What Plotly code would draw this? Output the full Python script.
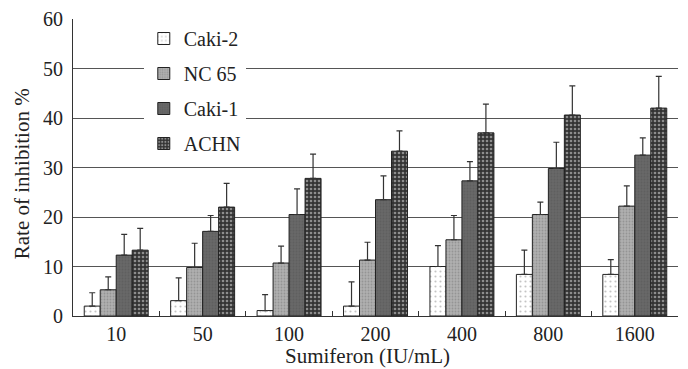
import plotly.graph_objects as go

doses = ["10", "50", "100", "200", "400", "800", "1600"]
caki2 = [2.0, 3.1, 1.1, 2.0, 10.0, 8.4, 8.4]
caki2_top = [4.7, 7.7, 4.3, 6.9, 14.2, 13.3, 11.4]
nc65 = [5.3, 9.8, 10.7, 11.3, 15.4, 20.5, 22.2]
nc65_top = [7.9, 14.7, 14.1, 14.9, 20.3, 23.0, 26.3]
caki1 = [12.3, 17.1, 20.5, 23.5, 27.3, 29.8, 32.5]
caki1_top = [16.5, 20.3, 25.7, 28.3, 31.2, 35.1, 36.0]
achn = [13.3, 22.0, 27.8, 33.3, 37.0, 40.6, 42.0]
achn_top = [17.7, 26.8, 32.7, 37.4, 42.8, 46.5, 48.4]

x_title = "Sumiferon (IU/mL)"
y_title = "Rate of inhibition %"

series = [
    ("Caki-2", caki2, caki2_top, dict(shape=".", bgcolor="white", fgcolor="#8a8a8a", size=5, solidity=0.15)),
    ("NC 65", nc65, nc65_top, dict(shape=".", bgcolor="#b0b0b0", fgcolor="#777777", size=3, solidity=0.3)),
    ("Caki-1", caki1, caki1_top, dict(shape=".", bgcolor="#686868", fgcolor="#555555", size=3, solidity=0.3)),
    ("ACHN", achn, achn_top, dict(shape=".", bgcolor="#333333", fgcolor="#e8e8e8", size=4, solidity=0.35)),
]

fig = go.Figure()
for i, (name, vals, tops, pat) in enumerate(series):
    fig.add_trace(go.Bar(
        x=doses, y=vals, name=name, legendgroup=name,
        marker=dict(color=pat["bgcolor"], pattern=pat,
                    line=dict(color="#222222", width=1)),
        error_y=dict(type="data", symmetric=False,
                     array=[t - v for t, v in zip(tops, vals)],
                     arrayminus=[0] * len(vals),
                     color="#333333", thickness=1.2, width=3),
    ))

# page body has an 8px default margin, so the figure is sized to fit the window
fig.update_layout(
    width=680, height=361,
    margin=dict(l=65, r=10, t=11, b=53),
    paper_bgcolor="white", plot_bgcolor="white",
    font=dict(family="Liberation Serif", size=20, color="#222222"),
    barmode="group", bargap=0.26, bargroupgap=0,
    showlegend=True,
    legend=dict(x=0.117, y=1.0, xanchor="left", yanchor="top",
                bgcolor="white", borderwidth=0, tracegroupgap=6,
                font=dict(size=20), itemwidth=30),
    xaxis=dict(automargin=False,
               showline=True, linecolor="#333333", linewidth=1.2,
               ticks="inside", tickson="boundaries", ticklen=5, tickcolor="#333333",
               showgrid=False),
    yaxis=dict(automargin=False,
               range=[0, 60], dtick=10,
               showline=True, linecolor="#333333", linewidth=1.2,
               showgrid=True, gridcolor="#555555", gridwidth=1,
               ticks="", ticklabelstandoff=5, zeroline=False),
    annotations=[
        dict(text=x_title, xref="paper", yref="paper", x=0.486, y=-0.135,
             xanchor="center", yanchor="middle", showarrow=False, font=dict(size=21)),
        dict(text=y_title, xref="paper", yref="paper", x=-0.083, y=0.48,
             xanchor="center", yanchor="middle", textangle=-90, showarrow=False,
             font=dict(size=21)),
    ],
)

fig.write_html("out.html")
